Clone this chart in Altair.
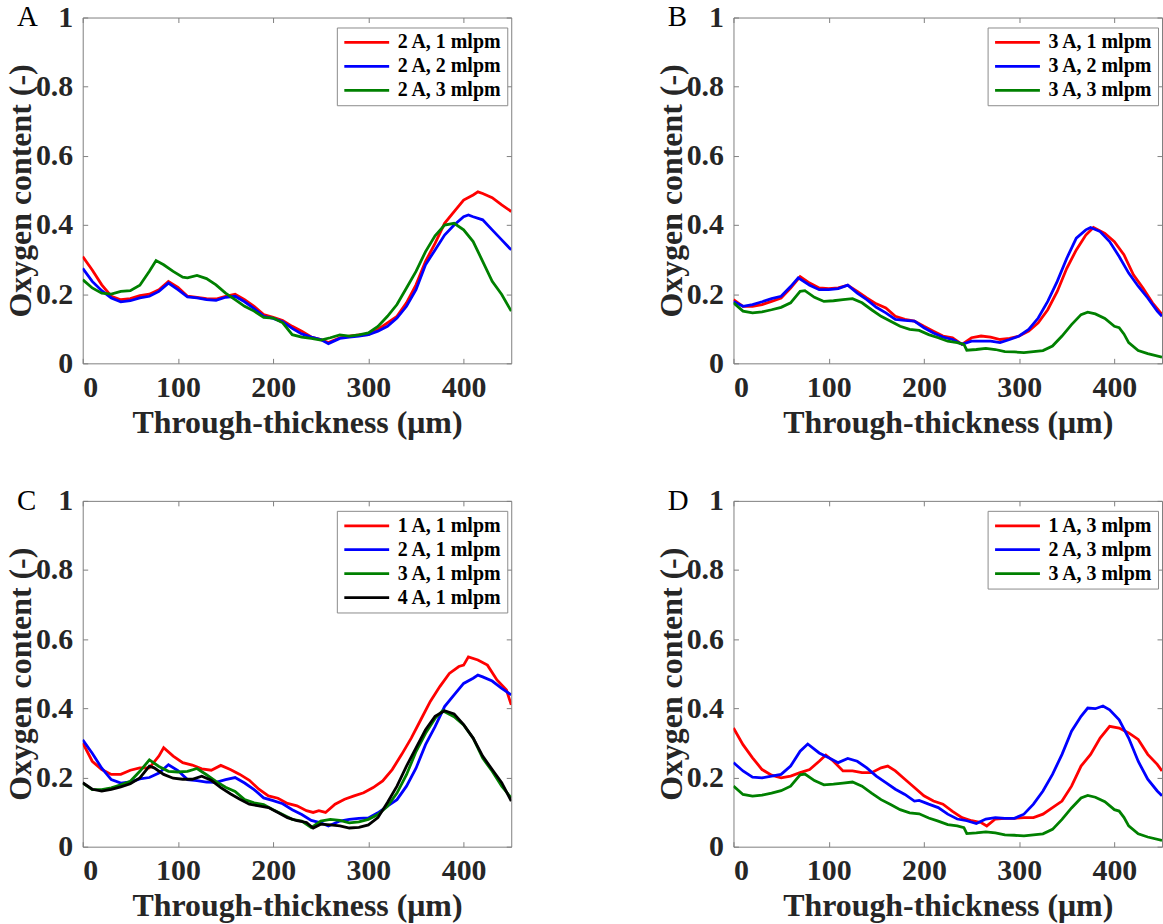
import altair as alt
import pandas as pd

FONT = "Liberation Serif"

# ---------------- data ----------------
# 2 A, 1 mlpm  (panel A red, panel C blue)
a21_x = [0, 10, 20, 30, 40, 50, 60, 70, 80, 90, 100, 110, 120, 130, 140, 150, 160, 170, 180, 190, 200, 210, 220, 230, 240, 250, 258, 270, 280, 290, 300, 310, 320, 330, 340, 350, 360, 370, 380, 390, 400, 410, 415, 420, 430, 440, 450]
a21_y = [0.309, 0.27, 0.227, 0.194, 0.184, 0.187, 0.196, 0.20, 0.213, 0.237, 0.22, 0.194, 0.191, 0.187, 0.186, 0.194, 0.20, 0.184, 0.165, 0.141, 0.133, 0.124, 0.107, 0.093, 0.076, 0.069, 0.06, 0.074, 0.079, 0.082, 0.083, 0.098, 0.117, 0.136, 0.175, 0.227, 0.295, 0.347, 0.405, 0.439, 0.472, 0.487, 0.496, 0.491, 0.479, 0.458, 0.439]

# 2 A, 2 mlpm
a22_x = [0, 10, 20, 30, 40, 50, 60, 70, 80, 90, 100, 110, 120, 130, 140, 150, 160, 170, 180, 190, 200, 210, 220, 230, 240, 250, 258, 270, 280, 290, 300, 310, 320, 330, 340, 350, 360, 370, 380, 390, 400, 405, 410, 420, 430, 440, 450]
a22_y = [0.275, 0.237, 0.21, 0.189, 0.178, 0.181, 0.189, 0.194, 0.208, 0.232, 0.213, 0.192, 0.189, 0.184, 0.182, 0.191, 0.194, 0.178, 0.158, 0.136, 0.13, 0.12, 0.101, 0.085, 0.076, 0.069, 0.057, 0.072, 0.076, 0.079, 0.083, 0.093, 0.107, 0.131, 0.165, 0.213, 0.285, 0.328, 0.371, 0.40, 0.424, 0.429, 0.424, 0.415, 0.386, 0.357, 0.328]

# 2 A, 3 mlpm
a23_x = [0, 10, 20, 30, 40, 50, 60, 70, 77, 85, 95, 105, 110, 120, 130, 140, 150, 160, 170, 180, 190, 200, 210, 220, 230, 240, 250, 260, 270, 280, 290, 300, 310, 320, 330, 340, 350, 360, 370, 380, 390, 400, 410, 420, 430, 440, 450]
a23_y = [0.242, 0.218, 0.203, 0.20, 0.208, 0.21, 0.226, 0.266, 0.297, 0.285, 0.266, 0.249, 0.247, 0.254, 0.245, 0.227, 0.203, 0.184, 0.165, 0.151, 0.133, 0.131, 0.117, 0.083, 0.076, 0.072, 0.067, 0.074, 0.082, 0.079, 0.082, 0.088, 0.107, 0.136, 0.17, 0.218, 0.266, 0.323, 0.369, 0.40, 0.405, 0.386, 0.352, 0.295, 0.237, 0.199, 0.151]

# 3 A, 1 mlpm  (panel B red, panel C green)
b31_x = [0, 10, 20, 30, 40, 50, 60, 70, 80, 90, 100, 110, 120, 130, 140, 150, 160, 170, 180, 190, 200, 210, 220, 230, 240, 250, 260, 270, 280, 290, 300, 310, 320, 330, 340, 350, 360, 370, 378, 390, 400, 410, 420, 430, 440, 450]
b31_y = [0.184, 0.165, 0.165, 0.17, 0.179, 0.189, 0.218, 0.251, 0.232, 0.218, 0.216, 0.218, 0.226, 0.208, 0.189, 0.172, 0.16, 0.136, 0.127, 0.122, 0.107, 0.093, 0.079, 0.074, 0.055, 0.074, 0.079, 0.076, 0.069, 0.072, 0.079, 0.093, 0.117, 0.155, 0.208, 0.275, 0.328, 0.371, 0.393, 0.376, 0.352, 0.314, 0.256, 0.218, 0.175, 0.141]

# 3 A, 2 mlpm
b32_x = [0, 10, 20, 30, 40, 50, 60, 68, 80, 90, 100, 110, 120, 130, 140, 150, 160, 170, 180, 190, 200, 210, 220, 230, 240, 250, 260, 270, 280, 290, 300, 310, 320, 330, 340, 350, 360, 370, 375, 385, 395, 405, 415, 425, 435, 445, 450]
b32_y = [0.179, 0.165, 0.17, 0.178, 0.187, 0.194, 0.222, 0.247, 0.226, 0.213, 0.213, 0.216, 0.226, 0.203, 0.184, 0.162, 0.146, 0.127, 0.124, 0.122, 0.103, 0.088, 0.076, 0.069, 0.055, 0.064, 0.064, 0.064, 0.06, 0.069, 0.079, 0.098, 0.131, 0.179, 0.237, 0.304, 0.362, 0.386, 0.393, 0.381, 0.352, 0.309, 0.261, 0.223, 0.189, 0.151, 0.136]

# 3 A, 3 mlpm  (panel B green, panel D green)
b33_x = [0, 10, 20, 30, 40, 50, 60, 70, 75, 85, 95, 105, 115, 125, 135, 145, 155, 165, 175, 185, 195, 205, 215, 225, 235, 242, 245, 255, 265, 275, 285, 295, 305, 315, 325, 335, 345, 355, 365, 372, 380, 390, 400, 405, 410, 415, 425, 435, 450]
b33_y = [0.175, 0.151, 0.146, 0.149, 0.155, 0.162, 0.175, 0.208, 0.21, 0.191, 0.179, 0.181, 0.184, 0.187, 0.175, 0.155, 0.136, 0.122, 0.107, 0.098, 0.095, 0.083, 0.074, 0.064, 0.06, 0.055, 0.038, 0.04, 0.043, 0.04, 0.034, 0.033, 0.031, 0.034, 0.037, 0.05, 0.079, 0.112, 0.141, 0.148, 0.143, 0.13, 0.107, 0.103, 0.085, 0.06, 0.037, 0.028, 0.018]

# 1 A, 1 mlpm
c11_x = [0, 10, 20, 30, 40, 50, 60, 70, 80, 85, 95, 105, 115, 125, 135, 145, 155, 165, 175, 185, 195, 205, 215, 225, 235, 242, 248, 255, 265, 275, 285, 295, 305, 315, 325, 335, 345, 355, 365, 375, 385, 395, 400, 405, 415, 425, 435, 445, 450]
c11_y = [0.30, 0.247, 0.223, 0.209, 0.209, 0.221, 0.228, 0.228, 0.262, 0.286, 0.262, 0.243, 0.236, 0.225, 0.221, 0.235, 0.223, 0.209, 0.192, 0.166, 0.147, 0.14, 0.125, 0.118, 0.104, 0.099, 0.104, 0.099, 0.123, 0.137, 0.147, 0.156, 0.171, 0.19, 0.223, 0.267, 0.314, 0.367, 0.42, 0.463, 0.501, 0.521, 0.525, 0.549, 0.54, 0.525, 0.482, 0.453, 0.41]

# 4 A, 1 mlpm
c41_x = [0, 10, 20, 30, 40, 50, 60, 70, 75, 85, 95, 105, 115, 125, 135, 145, 155, 165, 175, 185, 195, 205, 215, 225, 235, 242, 250, 260, 270, 280, 290, 300, 310, 320, 330, 340, 350, 360, 370, 380, 390, 400, 410, 420, 430, 440, 450]
c41_y = [0.185, 0.166, 0.161, 0.166, 0.173, 0.182, 0.199, 0.233, 0.228, 0.209, 0.198, 0.195, 0.195, 0.204, 0.192, 0.171, 0.153, 0.137, 0.123, 0.118, 0.113, 0.099, 0.084, 0.075, 0.07, 0.054, 0.065, 0.063, 0.06, 0.054, 0.056, 0.063, 0.084, 0.128, 0.175, 0.233, 0.286, 0.338, 0.377, 0.393, 0.384, 0.353, 0.314, 0.262, 0.223, 0.185, 0.132]

# 1 A, 3 mlpm
d13_x = [0, 10, 20, 30, 40, 50, 60, 70, 80, 90, 97, 105, 115, 125, 135, 145, 155, 162, 170, 180, 190, 200, 210, 220, 230, 240, 250, 260, 266, 275, 285, 295, 305, 315, 325, 335, 345, 355, 365, 375, 385, 395, 405, 415, 425, 435, 445, 450]
d13_y = [0.343, 0.295, 0.257, 0.223, 0.207, 0.199, 0.204, 0.214, 0.223, 0.247, 0.265, 0.247, 0.219, 0.219, 0.214, 0.214, 0.228, 0.233, 0.219, 0.195, 0.171, 0.147, 0.132, 0.123, 0.102, 0.084, 0.075, 0.07, 0.06, 0.08, 0.082, 0.082, 0.084, 0.084, 0.094, 0.113, 0.132, 0.175, 0.233, 0.267, 0.314, 0.348, 0.343, 0.329, 0.31, 0.267, 0.238, 0.219]

# 2 A, 3 mlpm
d23_x = [0, 10, 20, 30, 40, 50, 60, 70, 78, 90, 100, 110, 120, 130, 140, 150, 160, 170, 180, 190, 195, 205, 215, 225, 235, 245, 255, 265, 275, 285, 295, 305, 315, 325, 335, 345, 355, 365, 372, 380, 388, 395, 405, 415, 425, 435, 445, 450]
d23_y = [0.243, 0.219, 0.201, 0.199, 0.204, 0.209, 0.233, 0.276, 0.297, 0.271, 0.257, 0.243, 0.255, 0.247, 0.228, 0.204, 0.185, 0.166, 0.151, 0.132, 0.134, 0.123, 0.113, 0.094, 0.08, 0.075, 0.067, 0.08, 0.084, 0.082, 0.082, 0.094, 0.123, 0.161, 0.209, 0.267, 0.334, 0.377, 0.401, 0.399, 0.407, 0.396, 0.367, 0.314, 0.247, 0.195, 0.161, 0.147]

x_ticks = [0, 100, 200, 300, 400]
y_ticks = [0, 0.2, 0.4, 0.6, 0.8, 1]
RED, BLUE, GREEN, BLACK = "#ff0000", "#0000ff", "#008000", "#000000"


def make_df(series):
    rows = []
    for name, xs, ys in series:
        for i, (x, y) in enumerate(zip(xs, ys)):
            rows.append({"x": x, "y": y, "series": name, "order": i})
    return pd.DataFrame(rows)


def panel(letter, series, colors):
    df = make_df(series)
    names = [s[0] for s in series]
    xsc = alt.Scale(domain=[0, 450], nice=False, zero=False)
    ysc = alt.Scale(domain=[0, 1], nice=False)
    base = alt.Chart(df)
    lines = base.mark_line(strokeWidth=2.8, clip=True).encode(
        x=alt.X("x:Q", scale=xsc,
                axis=alt.Axis(orient="bottom", values=x_ticks, title="Through-thickness (μm)",
                              offset=-5, tickSize=5, labelPadding=9, titlePadding=5)),
        y=alt.Y("y:Q", scale=ysc,
                axis=alt.Axis(orient="left", values=y_ticks, format="~g", title="Oxygen content (-)",
                              offset=-5, tickSize=5, labelPadding=10, titlePadding=-2)),
        color=alt.Color("series:N", sort=names,
                        scale=alt.Scale(domain=names, range=colors),
                        legend=alt.Legend(title=None, orient="none", legendX=255, legendY=10,
                                          symbolType="M-1,0L5,0", symbolSize=225,
                                          symbolStrokeWidth=2.8, labelOffset=36,
                                          labelFont=FONT, labelFontWeight="bold", labelFontSize=20,
                                          labelColor="#000000", strokeColor="#8c8c8c",
                                          fillColor="#ffffff", padding=5, rowPadding=4)),
        order="order:Q",
    )
    frame = base.mark_line(opacity=0).encode(
        x=alt.X("x:Q", scale=xsc,
                axis=alt.Axis(orient="top", values=x_ticks, labels=False, title=None,
                              offset=-5, tickSize=5)),
        y=alt.Y("y:Q", scale=ysc,
                axis=alt.Axis(orient="right", values=y_ticks, labels=False, title=None,
                              offset=-5, tickSize=5)),
        detail="series:N",
    )
    tag = alt.Chart(pd.DataFrame({"tag": [letter]})).mark_text(
        font=FONT, fontSize=29, fontWeight="normal", color="#000000",
        align="left", baseline="alphabetic",
    ).encode(text="tag:N", x=alt.value(-66), y=alt.value(9))
    return alt.layer(lines, frame, tag).resolve_axis(x="independent", y="independent").resolve_scale(
        color="independent").properties(width=430, height=347)


pA = panel("A", [("2 A, 1 mlpm", a21_x, a21_y), ("2 A, 2 mlpm", a22_x, a22_y),
                 ("2 A, 3 mlpm", a23_x, a23_y)], [RED, BLUE, GREEN])
pB = panel("B", [("3 A, 1 mlpm", b31_x, b31_y), ("3 A, 2 mlpm", b32_x, b32_y),
                 ("3 A, 3 mlpm", b33_x, b33_y)], [RED, BLUE, GREEN])
pC = panel("C", [("1 A, 1 mlpm", c11_x, c11_y), ("2 A, 1 mlpm", a21_x, a21_y),
                 ("3 A, 1 mlpm", b31_x, b31_y), ("4 A, 1 mlpm", c41_x, c41_y)],
           [RED, BLUE, GREEN, BLACK])
pD = panel("D", [("1 A, 3 mlpm", d13_x, d13_y), ("2 A, 3 mlpm", d23_x, d23_y),
                 ("3 A, 3 mlpm", b33_x, b33_y)], [RED, BLUE, GREEN])

top = alt.hconcat(pA, pB, spacing=143).resolve_scale(color="independent")
bottom = alt.hconcat(pC, pD, spacing=143).resolve_scale(color="independent")
chart = alt.vconcat(top, bottom, spacing=46).resolve_scale(color="independent").properties(
    padding={"left": 4, "top": 0, "right": 0, "bottom": 0},
    background="#ffffff",
).configure_view(stroke="#7f7f7f", strokeWidth=1).configure_axis(
    domain=False, grid=False, tickColor="#7f7f7f", tickWidth=1,
    labelFont=FONT, labelFontWeight="bold", labelFontSize=30, labelColor="#262626",
    titleFont=FONT, titleFontWeight="bold", titleFontSize=32, titleColor="#262626",
).configure_legend(labelLimit=0)

chart.save("out.html", embed_options={"renderer": "svg", "actions": False})
